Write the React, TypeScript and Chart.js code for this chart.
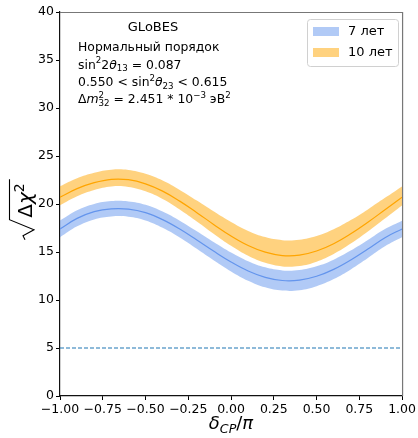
import React, { useEffect, useRef } from "react";
import { Chart, registerables } from "chart.js";

Chart.register(...registerables);

// ---- data ----
const deltaCP = [-1.0, -0.9, -0.8, -0.7, -0.6, -0.5, -0.4, -0.3, -0.2, -0.1, 0.0, 0.1, 0.2, 0.3, 0.4, 0.5, 0.6, 0.7, 0.8, 0.9, 1.0];

const center7 = [17.4, 18.5, 19.2, 19.5, 19.47, 19.1, 18.37, 17.39, 16.25, 15.07, 13.96, 13.02, 12.36, 12.03, 12.07, 12.47, 13.19, 14.17, 15.31, 16.49, 17.4];
const upper7 = [18.27, 19.34, 20.01, 20.3, 20.27, 19.92, 19.21, 18.26, 17.16, 16.02, 14.95, 14.04, 13.4, 13.08, 13.12, 13.51, 14.2, 15.15, 16.25, 17.39, 18.27];
const lower7 = [16.53, 17.67, 18.39, 18.7, 18.67, 18.29, 17.53, 16.52, 15.34, 14.12, 12.98, 12.01, 11.32, 10.98, 11.02, 11.44, 12.18, 13.19, 14.37, 15.59, 16.53];

const center10 = [20.7, 21.6, 22.22, 22.57, 22.53, 22.1, 21.34, 20.3, 19.1, 17.85, 16.67, 15.68, 14.98, 14.63, 14.67, 15.1, 15.86, 16.9, 18.1, 19.4, 20.7];
const upper10 = [21.84, 22.68, 23.25, 23.57, 23.54, 23.14, 22.44, 21.47, 20.36, 19.21, 18.12, 17.2, 16.55, 16.23, 16.27, 16.66, 17.37, 18.33, 19.44, 20.64, 21.84];
const lower10 = [19.86, 20.8, 21.45, 21.82, 21.78, 21.33, 20.53, 19.44, 18.18, 16.87, 15.64, 14.6, 13.87, 13.5, 13.54, 13.99, 14.79, 15.88, 17.14, 18.5, 19.86];

const thresholdX = [-1, 1];
const thresholdY = [5, 5];

const seriesLabels = ["7 лет", "10 лет"];
const infoLines = ["GLoBES", "Нормальный порядок"];

const xMin = -1, xMax = 1, xStep = 0.25;
const yMin = 0, yMax = 40, yStep = 5;

const BLUE_LINE = "#6495ed";
const BLUE_FILL = "rgba(100,149,237,0.5)";
const ORANGE_LINE = "#ffa500";
const ORANGE_FILL = "rgba(255,165,0,0.5)";
const FAM = '"DejaVu Sans"';

type Run = { t?: string; it?: boolean; s?: number; stack?: [string, string] };

function font(size: number, it?: boolean) {
  return `${it ? "italic " : ""}${size}px ${FAM}`;
}

function runsWidth(ctx: CanvasRenderingContext2D, runs: Run[], size: number) {
  let w = 0;
  for (const r of runs) {
    if (r.stack) {
      ctx.font = font(size * 0.7);
      w += Math.max(ctx.measureText(r.stack[0]).width, ctx.measureText(r.stack[1]).width);
    } else {
      const sz = r.s ? size * 0.7 : size;
      ctx.font = font(sz, r.it);
      w += ctx.measureText(r.t || "").width;
    }
  }
  return w;
}

function drawRuns(ctx: CanvasRenderingContext2D, runs: Run[], x: number, y: number, size: number, align: "left" | "center" = "left") {
  let cx = x;
  if (align === "center") cx = x - runsWidth(ctx, runs, size) / 2;
  ctx.textAlign = "left";
  ctx.textBaseline = "alphabetic";
  for (const r of runs) {
    if (r.stack) {
      ctx.font = font(size * 0.7);
      ctx.fillText(r.stack[0], cx, y - size * 0.42);
      ctx.fillText(r.stack[1], cx, y + size * 0.25);
      cx += Math.max(ctx.measureText(r.stack[0]).width, ctx.measureText(r.stack[1]).width);
    } else {
      const sz = r.s ? size * 0.7 : size;
      ctx.font = font(sz, r.it);
      const dy = r.s === 1 ? -size * 0.42 : r.s === -1 ? size * 0.22 : 0;
      ctx.fillText(r.t || "", cx, y + dy);
      cx += ctx.measureText(r.t || "").width;
    }
  }
}

const decorPlugin = {
  id: "decor",
  afterDatasetsDraw(chart: any) {
    const ctx: CanvasRenderingContext2D = chart.ctx;
    const a = chart.chartArea;
    ctx.save();
    // spines
    ctx.lineWidth = 1.2;
    ctx.strokeStyle = "#777";
    ctx.beginPath();
    ctx.moveTo(a.left, a.top + 0.5);
    ctx.lineTo(a.right + 0.5, a.top + 0.5);
    ctx.lineTo(a.right + 0.5, a.bottom);
    ctx.stroke();

    // annotation text
    ctx.fillStyle = "#000";
    const fs = 12.4;
    drawRuns(ctx, [{ t: infoLines[0] }], 153, 31, 13, "center");
    drawRuns(ctx, [{ t: infoLines[1] }], 78, 51, fs);
    drawRuns(ctx, [{ t: "sin" }, { t: "2", s: 1 }, { t: "2" }, { t: "θ", it: true }, { t: "13", s: -1 }, { t: " = 0.087" }], 78, 68.5, fs);
    drawRuns(ctx, [{ t: "0.550 < sin" }, { t: "2", s: 1 }, { t: "θ", it: true }, { t: "23", s: -1 }, { t: " < 0.615" }], 78, 86, fs);
    drawRuns(ctx, [{ t: "Δ" }, { t: "m", it: true }, { stack: ["2", "32"] }, { t: " = 2.451 * 10" }, { t: "−3", s: 1 }, { t: " эВ" }, { t: "2", s: 1 }], 78, 103, fs);

    // legend
    const lx = 307, ly = 19, lw = 91, lh = 47;
    ctx.fillStyle = "rgba(255,255,255,0.8)";
    ctx.strokeStyle = "#d0d0d0";
    ctx.lineWidth = 1;
    ctx.beginPath();
    (ctx as any).roundRect(lx + 0.5, ly + 0.5, lw, lh, 3);
    ctx.fill();
    ctx.stroke();
    const fills = [BLUE_FILL, ORANGE_FILL];
    seriesLabels.forEach((lab, i) => {
      const py = 27 + i * 21;
      ctx.fillStyle = fills[i];
      ctx.fillRect(313, py, 26, 9);
      ctx.fillStyle = "#000";
      ctx.font = font(13);
      ctx.textBaseline = "middle";
      ctx.textAlign = "left";
      ctx.fillText(lab, 348, py + 5);
    });

    // x axis title
    ctx.fillStyle = "#000";
    drawRuns(ctx, [{ t: "δ", it: true }, { t: "CP", it: true, s: -1 }, { t: "/" }, { t: "π", it: true }], 231, 429, 18, "center");

    // y axis title: sqrt(Δχ^2) rotated
    ctx.save();
    ctx.translate(32, 210);
    ctx.rotate(-Math.PI / 2);
    const ys = 20;
    ctx.font = font(ys);
    const wD = ctx.measureText("Δ").width;
    ctx.font = font(ys, true);
    const wC = ctx.measureText("χ").width;
    ctx.font = font(ys * 0.7);
    const w2 = ctx.measureText("2").width;
    const rad = 22;
    const total = rad + wD + wC + w2 + 3;
    const u0 = -total / 2;
    ctx.strokeStyle = "#000";
    ctx.lineWidth = 1.1;
    ctx.beginPath();
    ctx.moveTo(u0, -7);
    ctx.lineTo(u0 + 4, -9);
    ctx.lineTo(u0 + 10, 2);
    ctx.lineTo(u0 + 20, -22.5);
    ctx.lineTo(u0 + total + 1, -22.5);
    ctx.stroke();
    ctx.fillStyle = "#000";
    drawRuns(ctx, [{ t: "Δ" }, { t: "χ", it: true }, { t: "2", s: 1 }], u0 + rad, 0, ys);
    ctx.restore();

    ctx.restore();
  },
};

function fmtX(v: number) {
  return v.toFixed(2).replace("-", "\u2212");
}

export default function App() {
  const ref = useRef<HTMLCanvasElement>(null);
  useEffect(() => {
    document.body.style.margin = "0";
    Chart.defaults.font.family = FAM;
    const pts = (ys: number[]) => ys.map((y, i) => ({ x: deltaCP[i], y }));
    const band = {
      pointRadius: 0,
      borderWidth: 0,
      tension: 0.4,
    };
    const chart = new Chart(ref.current!, {
      type: "line",
      data: {
        datasets: [
          { ...band, label: "u7", data: pts(upper7), fill: "+1", backgroundColor: BLUE_FILL, borderColor: "transparent" },
          { ...band, label: "l7", data: pts(lower7), fill: false, borderColor: "transparent" },
          { ...band, label: "u10", data: pts(upper10), fill: "+1", backgroundColor: ORANGE_FILL, borderColor: "transparent" },
          { ...band, label: "l10", data: pts(lower10), fill: false, borderColor: "transparent" },
          { label: "c7", data: pts(center7), borderColor: BLUE_LINE, borderWidth: 1.2, pointRadius: 0, fill: false, tension: 0.4 },
          { label: "c10", data: pts(center10), borderColor: ORANGE_LINE, borderWidth: 1.2, pointRadius: 0, fill: false, tension: 0.4 },
          {
            label: "thr",
            data: thresholdX.map((x, i) => ({ x, y: thresholdY[i] })),
            borderColor: "#1f77b4",
            borderWidth: 1.2,
            borderDash: [4, 2],
            pointRadius: 0,
            fill: false,
          },
        ],
      },
      options: {
        animation: false,
        responsive: false,
        maintainAspectRatio: false,
        layout: { padding: { left: 0, top: 12, right: 15, bottom: 0 } },
        plugins: {
          legend: { display: false },
          tooltip: { enabled: false },
          filler: { drawTime: "beforeDatasetsDraw" } as any,
        },
        scales: {
          x: {
            type: "linear",
            min: xMin,
            max: xMax,
            afterFit: (s: any) => { s.height = 42; },
            ticks: {
              stepSize: xStep,
              color: "#000",
              font: { size: 12.5, family: FAM },
              padding: 2,
              maxRotation: 0,
              autoSkip: false,
              callback: (v: any) => fmtX(Number(v)),
            },
            grid: { drawOnChartArea: false, drawTicks: true, tickLength: 4, color: "#000" },
            border: { display: true, color: "#111", width: 1.2 },
          },
          y: {
            type: "linear",
            min: yMin,
            max: yMax,
            afterFit: (s: any) => { s.width = 60; },
            ticks: {
              stepSize: yStep,
              color: "#000",
              font: { size: 12.5, family: FAM },
              padding: 2,
              callback: (v: any) => String(v),
            },
            grid: { drawOnChartArea: false, drawTicks: true, tickLength: 4, color: "#000" },
            border: { display: true, color: "#111", width: 1.2 },
          },
        },
      },
      plugins: [decorPlugin],
    });
    return () => chart.destroy();
  }, []);
  return (
    <div style={{ position: "absolute", left: 0, top: 0, width: 418, height: 438, background: "#fff" }}>
      <canvas ref={ref} width={418} height={438} style={{ display: "block", width: 418, height: 438 }} />
    </div>
  );
}
